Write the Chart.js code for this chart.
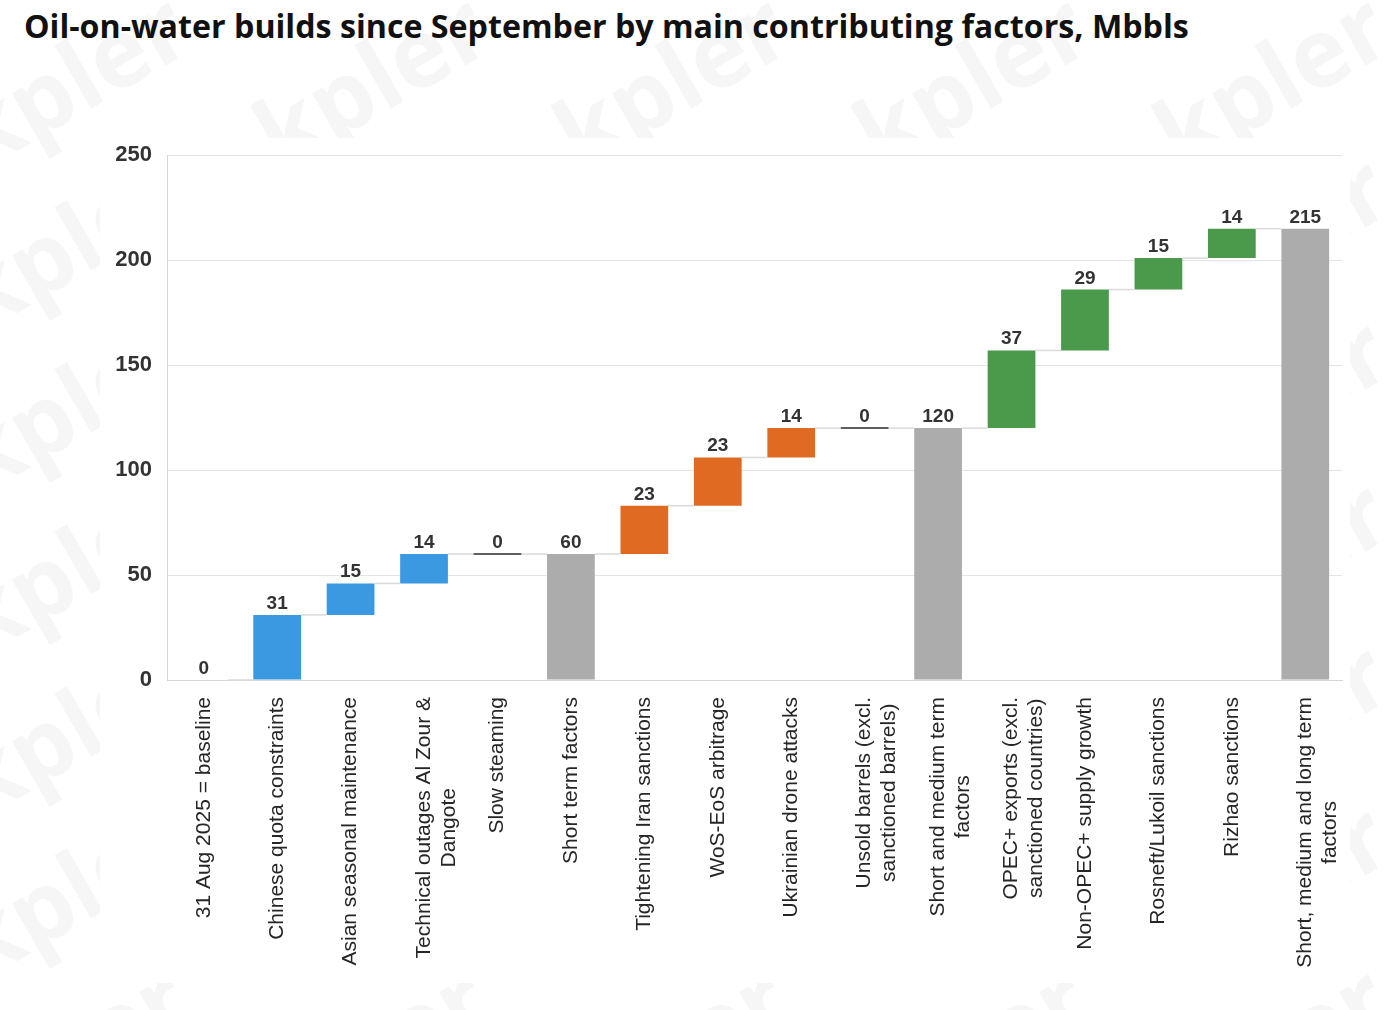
<!DOCTYPE html>
<html>
<head>
<meta charset="utf-8">
<title>Oil-on-water builds</title>
<script src="https://cdn.jsdelivr.net/npm/chart.js@4.4.1/dist/chart.umd.min.js"></script>
<style>
  html, body { margin: 0; padding: 0; background: #fff; }
  body { width: 1388px; height: 1010px; position: relative; overflow: hidden; }
  #watermark { position: absolute; left: 0; top: 0; width: 1388px; height: 1010px; }
  .wm {
    position: absolute;
    font-family: "Open Sans", sans-serif;
    font-weight: 700;
    font-size: 96px;
    line-height: 1;
    color: #f6f6f6;
    white-space: nowrap;
    transform: translate(-50%, -50%) rotate(-30deg);
  }
  h1 {
    position: absolute; left: 24px; top: 4px; margin: 0;
    font-family: "Open Sans", sans-serif; font-weight: 700; font-size: 32.2px;
    color: #111; white-space: nowrap;
  }
  #chart-bg { position: absolute; left: 100px; top: 138px; width: 1250px; height: 845px; background: #fff; }
  #chart-box { position: absolute; left: 100px; top: 127px; width: 1250px; height: 856px; }
</style>
</head>
<body>
<div id="watermark"></div>
<h1>Oil-on-water builds since September by main contributing factors, Mbbls</h1>
<div id="chart-bg"></div>
<div id="chart-box"><canvas id="waterfall"></canvas></div>
<script>
// categories (multi-line labels as arrays)
const categories = [
  ['31 Aug 2025 = baseline'],
  ['Chinese quota constraints'],
  ['Asian seasonal maintenance'],
  ['Technical outages Al Zour &', 'Dangote'],
  ['Slow steaming'],
  ['Short term factors'],
  ['Tightening Iran sanctions'],
  ['WoS-EoS arbitrage'],
  ['Ukrainian drone attacks'],
  ['Unsold barrels (excl.', 'sanctioned barrels)'],
  ['Short and medium term', 'factors'],
  ['OPEC+ exports (excl.', 'sanctioned countries)'],
  ['Non-OPEC+ supply growth'],
  ['Rosneft/Lukoil sanctions'],
  ['Rizhao sanctions'],
  ['Short, medium and long term', 'factors']
];

// Mbbls, as labelled on the bars (totals are the running level)
const values = [0, 31, 15, 14, 0, 60, 23, 23, 14, 0, 120, 37, 29, 15, 14, 215];

// which group each bar belongs to
const groups = ['baseline', 'short', 'short', 'short', 'short', 'total',
                'medium', 'medium', 'medium', 'medium', 'total',
                'long', 'long', 'long', 'long', 'total'];

const yTicks = [0, 50, 100, 150, 200, 250];

const groupColors = {
  baseline: 'rgba(0,0,0,0)',
  short: '#3b99e1',
  medium: '#e06a22',
  long: '#4b9a4b',
  total: '#acacac'
};

// floating [start, end] per bar, and the level each bar ends at
let level = 0;
const ranges = [];
const levels = [];
values.forEach((v, i) => {
  if (groups[i] === 'total') {
    ranges.push([0, v]);
    level = v;
  } else {
    ranges.push([level, level + v]);
    level += v;
  }
  levels.push(level);
});

const FONT = '"Liberation Sans", Arial, sans-serif';

const waterfallExtras = {
  id: 'waterfallExtras',
  afterDatasetsDraw(chart) {
    const ctx = chart.ctx;
    const meta = chart.getDatasetMeta(0);
    const y = chart.scales.y;
    ctx.save();

    // connector lines between neighbouring bars
    ctx.strokeStyle = '#dadada';
    ctx.lineWidth = 1.5;
    for (let i = 0; i < meta.data.length - 1; i++) {
      const a = meta.data[i], b = meta.data[i + 1];
      const py = y.getPixelForValue(levels[i]);
      ctx.beginPath();
      ctx.moveTo(a.x + a.width / 2, py);
      ctx.lineTo(b.x - b.width / 2, py);
      ctx.stroke();
    }

    // zero-change bars are shown as a thin dark line
    ctx.strokeStyle = '#5e5e5e';
    ctx.lineWidth = 2;
    meta.data.forEach((bar, i) => {
      if (values[i] !== 0 || groups[i] === 'baseline') return;
      const py = y.getPixelForValue(levels[i]);
      ctx.beginPath();
      ctx.moveTo(bar.x - bar.width / 2, py);
      ctx.lineTo(bar.x + bar.width / 2, py);
      ctx.stroke();
    });

    // value labels above bars
    ctx.font = 'bold 19px ' + FONT;
    ctx.fillStyle = '#333';
    ctx.textAlign = 'center';
    ctx.textBaseline = 'alphabetic';
    meta.data.forEach((bar, i) => {
      const top = y.getPixelForValue(Math.max(ranges[i][0], ranges[i][1]));
      ctx.fillText(String(values[i]), bar.x, top - 6);
    });
    ctx.restore();
  },
  afterDraw(chart) {
    // rotated category labels, top-aligned under the axis
    const ctx = chart.ctx;
    const x = chart.scales.x;
    const top = chart.chartArea.bottom + 17;
    ctx.save();
    ctx.font = '21px ' + FONT;
    ctx.fillStyle = '#262626';
    categories.forEach((lines, i) => {
      const px = x.getPixelForValue(i);
      const w = Math.max(...lines.map(l => ctx.measureText(l).width));
      ctx.save();
      ctx.translate(px, top);
      ctx.rotate(-Math.PI / 2);
      ctx.textAlign = 'center';
      ctx.textBaseline = 'middle';
      lines.forEach((l, j) => ctx.fillText(l, -w / 2, j * 25));
      ctx.restore();
    });
    ctx.restore();
  }
};

new Chart(document.getElementById('waterfall'), {
  type: 'bar',
  data: {
    labels: categories,
    datasets: [{
      data: ranges,
      backgroundColor: groups.map(g => groupColors[g]),
      borderWidth: 0,
      barPercentage: 0.65,
      categoryPercentage: 1.0
    }]
  },
  options: {
    responsive: true,
    maintainAspectRatio: false,
    animation: false,
    layout: { padding: { top: 6, right: 8, left: 0, bottom: 0 } },
    plugins: {
      legend: { display: false },
      tooltip: { enabled: false }
    },
    scales: {
      x: {
        grid: { display: false },
        border: { display: true, color: '#d6d6d6', width: 1 },
        ticks: { display: false },
        afterFit(scale) { scale.height = 303; }
      },
      y: {
        min: yTicks[0],
        max: yTicks[yTicks.length - 1],
        afterBuildTicks(scale) { scale.ticks = yTicks.map(v => ({ value: v })); },
        ticks: {
          padding: 15,
          color: '#333',
          font: { family: FONT, size: 22, weight: 'bold' }
        },
        grid: { color: '#e4e4e4', drawTicks: false },
        border: { display: true, color: '#d6d6d6' },
        afterFit(scale) { scale.width = 67; }
      }
    }
  },
  plugins: [waterfallExtras]
});

// faint "kpler" watermark tiles
const wm = document.getElementById('watermark');
for (let row = 0; row < 7; row++) {
  for (let col = 0; col < 5; col++) {
    const d = document.createElement('div');
    d.className = 'wm';
    d.textContent = 'kpler';
    d.style.left = (70 + col * 300) + 'px';
    d.style.top = (78 + row * 162) + 'px';
    wm.appendChild(d);
  }
}
</script>
</body>
</html>
